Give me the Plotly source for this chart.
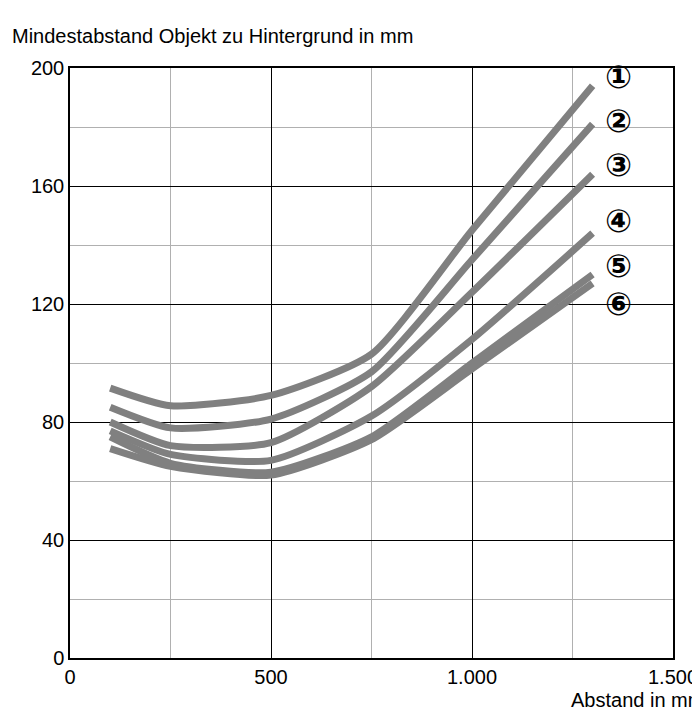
import plotly.graph_objects as go

x_vals = [100, 250, 500, 750, 1000, 1300]
curves = {
    "①": [91.5, 85.5, 89, 103, 145, 194],
    "②": [85, 78, 81, 97, 135, 181],
    "③": [80, 72, 73, 92, 124, 164],
    "④": [77, 69, 67, 82, 108, 144],
    "⑤": [75, 66, 63, 75, 100, 130],
    "⑥": [71, 65, 62, 74, 98, 127],
}
label_y = [197, 182, 167, 148, 133, 120]

fig = go.Figure()
for name, ys in curves.items():
    fig.add_trace(go.Scatter(x=x_vals, y=ys, mode="lines", name=name,
                             line=dict(color="#808080", width=7, shape="spline", smoothing=0.6)))

for (name, _), ly in zip(curves.items(), label_y):
    fig.add_annotation(x=1365, y=ly, text="<b>" + name + "</b>", showarrow=False, xref="x", yref="y",
                       font=dict(size=32, color="black", family="DejaVu Sans"))

fig.update_layout(
    width=700, height=720, showlegend=False,
    plot_bgcolor="white", paper_bgcolor="white",
    margin=dict(l=62, r=35, t=60, b=70, autoexpand=False),
    font=dict(family="Liberation Sans", size=20, color="black"),
    xaxis=dict(range=[0, 1500], tickvals=[0, 500, 1000, 1500],
               ticktext=["0", "500", "1.000", "1.500"],
               showgrid=True, gridcolor="black", gridwidth=1.2,
               minor=dict(dtick=250, showgrid=True, gridcolor="#b0b0b0", gridwidth=1),
               showline=True, linecolor="black", linewidth=1.5, mirror=True, zeroline=False),
    yaxis=dict(range=[0, 200], tickvals=[0, 40, 80, 120, 160, 200],
               showgrid=True, gridcolor="black", gridwidth=1.2,
               minor=dict(dtick=20, showgrid=True, gridcolor="#b0b0b0", gridwidth=1),
               showline=True, linecolor="black", linewidth=1.5, mirror=True, zeroline=False),
)
fig.add_annotation(text="Mindestabstand Objekt zu Hintergrund in mm", xref="paper", yref="paper",
                   x=-0.1, y=1.0, yshift=45, xanchor="left", showarrow=False, font=dict(size=20))
fig.add_annotation(text="Abstand in mm", xref="paper", yref="paper",
                   x=1.055, y=0, yshift=-55, xanchor="right", showarrow=False, font=dict(size=20))

fig.write_html("out.html")
